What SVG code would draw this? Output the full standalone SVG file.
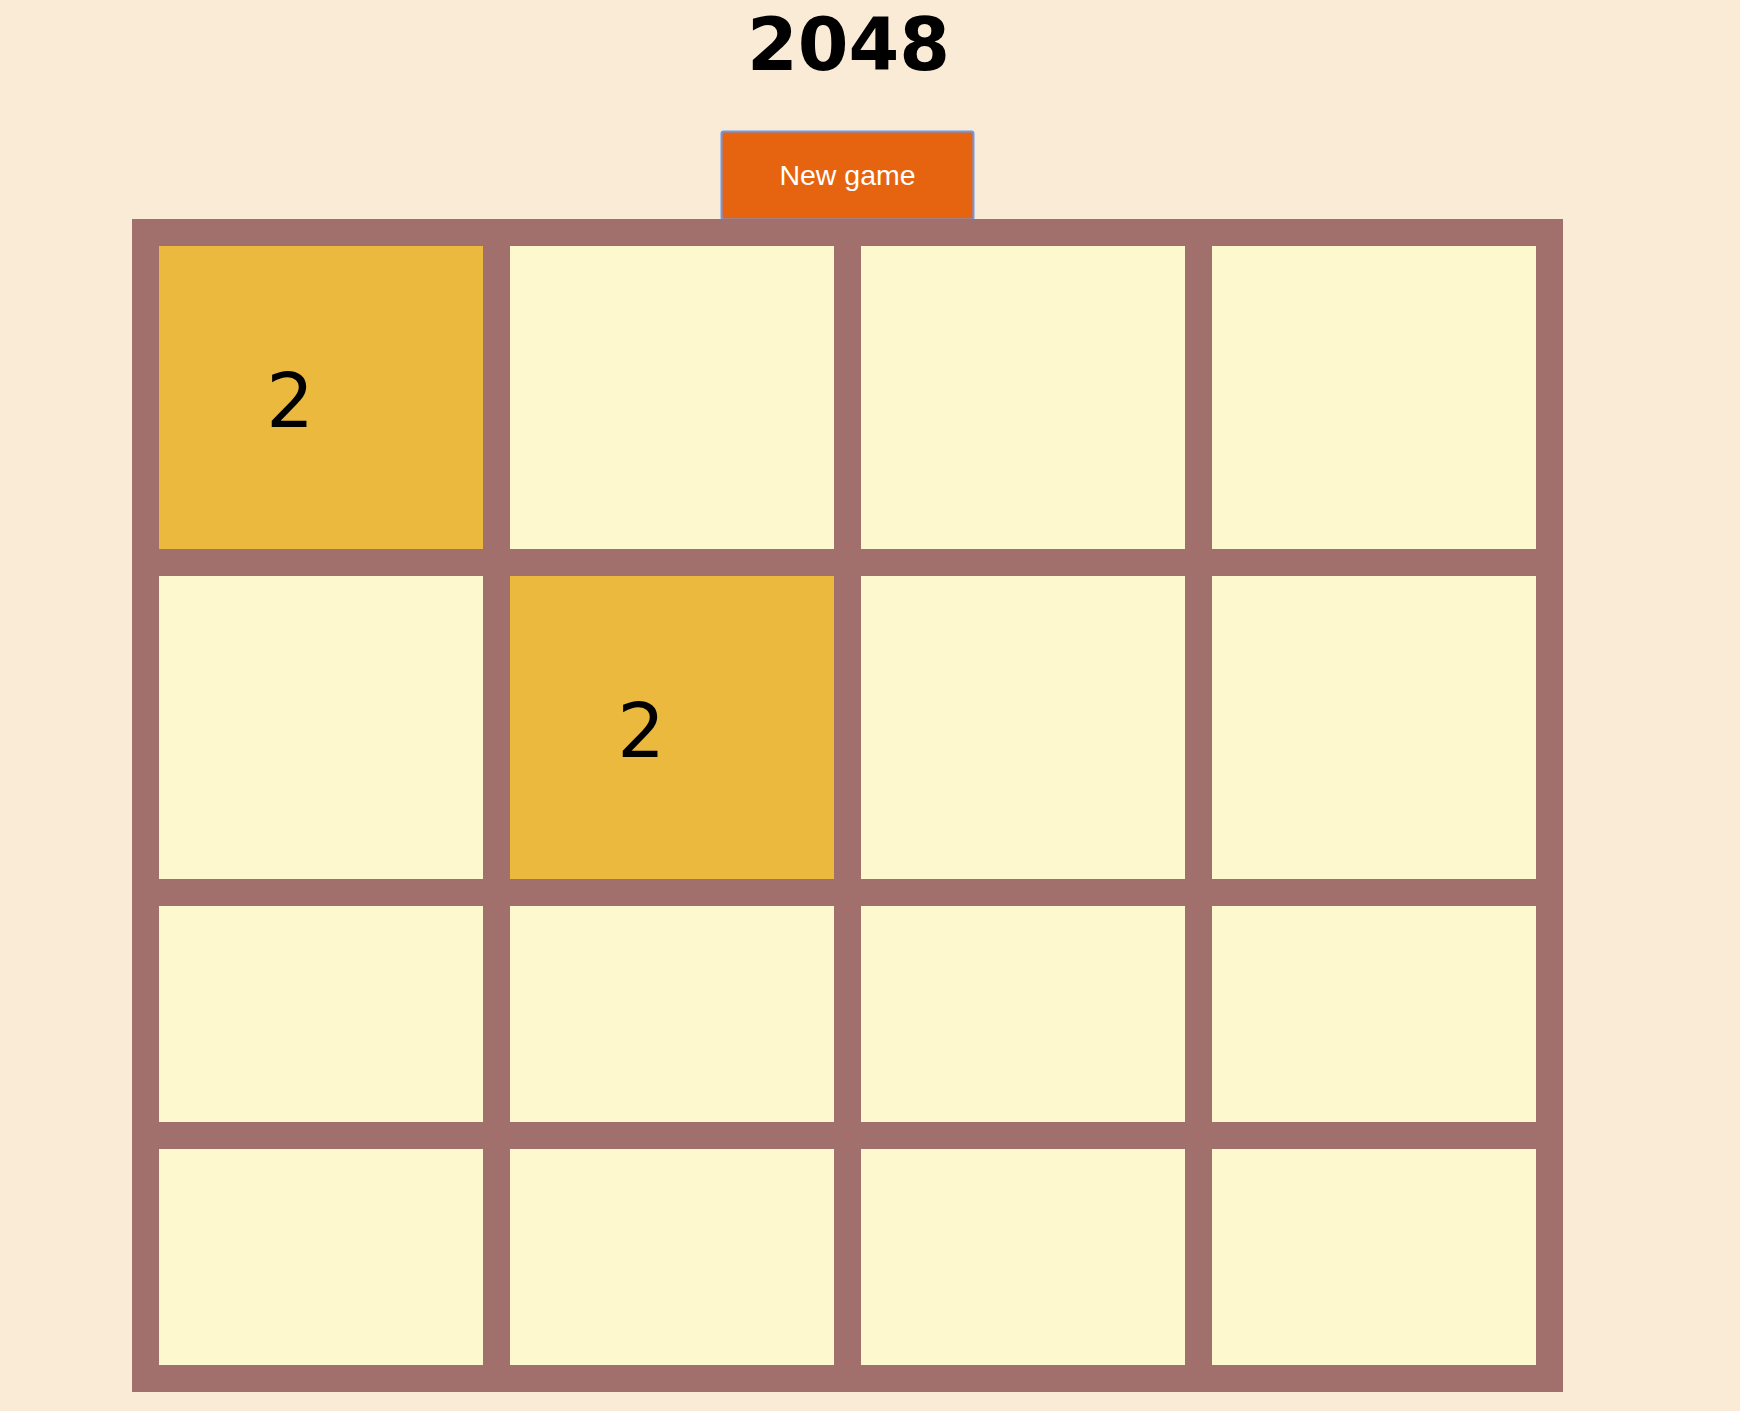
<svg xmlns="http://www.w3.org/2000/svg" width="1740" height="1411" viewBox="0 0 1740 1411">
<style>
.cell{fill:#FEF8CF}
.tile{fill:#EAB93E}
.num{font-family:"DejaVu Sans",sans-serif;font-size:75px;fill:#000;text-anchor:middle}
</style>
<rect x="0" y="0" width="1740" height="1411" fill="#FAEBD7"/>
<g id="title"><text x="848.5" y="70" font-family="DejaVu Sans, sans-serif" font-weight="bold" font-size="73" text-anchor="middle" fill="#000">2048</text></g>
<g id="new-game">
<rect x="721.5" y="131.5" width="252" height="88" rx="2" fill="#E6640F" stroke="#6A9AEF" stroke-width="2"/>
<text x="847.5" y="185" font-family="Liberation Sans, Arial, sans-serif" font-size="28.5" text-anchor="middle" fill="#FFFFFF">New game</text>
</g>
<g id="board">
<rect x="132" y="219" width="1431" height="1173" fill="#A1706D"/>
<rect id="c11" class="tile" x="159" y="246" width="324" height="303"/>
<rect id="c12" class="cell" x="510" y="246" width="324" height="303"/>
<rect id="c13" class="cell" x="861" y="246" width="324" height="303"/>
<rect id="c14" class="cell" x="1212" y="246" width="324" height="303"/>
<rect id="c21" class="cell" x="159" y="576" width="324" height="303"/>
<rect id="c22" class="tile" x="510" y="576" width="324" height="303"/>
<rect id="c23" class="cell" x="861" y="576" width="324" height="303"/>
<rect id="c24" class="cell" x="1212" y="576" width="324" height="303"/>
<rect id="c31" class="cell" x="159" y="906" width="324" height="216"/>
<rect id="c32" class="cell" x="510" y="906" width="324" height="216"/>
<rect id="c33" class="cell" x="861" y="906" width="324" height="216"/>
<rect id="c34" class="cell" x="1212" y="906" width="324" height="216"/>
<rect id="c41" class="cell" x="159" y="1149" width="324" height="216"/>
<rect id="c42" class="cell" x="510" y="1149" width="324" height="216"/>
<rect id="c43" class="cell" x="861" y="1149" width="324" height="216"/>
<rect id="c44" class="cell" x="1212" y="1149" width="324" height="216"/>
<text class="num" x="290" y="427">2</text>
<text class="num" x="641" y="757">2</text>
</g>
<g id="connectors"/>
</svg>
